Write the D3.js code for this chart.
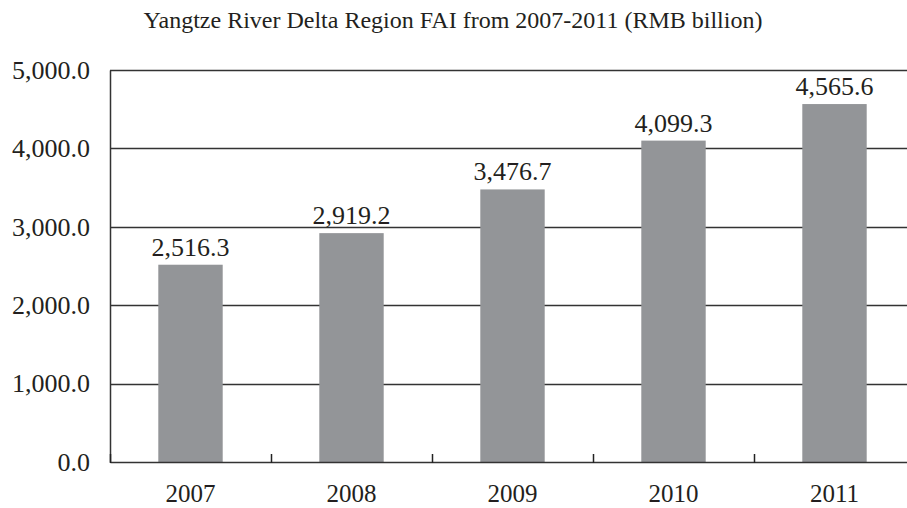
<!DOCTYPE html>
<html>
<head>
<meta charset="utf-8">
<script src="https://cdn.jsdelivr.net/npm/d3@7"></script>
<style>
  html, body { margin: 0; padding: 0; background: #fff; }
  svg { display: block; }
  text { font-family: "Liberation Serif", "Times New Roman", serif; fill: #231f20; }
</style>
</head>
<body>
<svg id="chart" width="907" height="508"></svg>
<script>
// Fixed-asset investment, Yangtze River Delta, RMB billion
const years = ["2007", "2008", "2009", "2010", "2011"];
const fai = [2516.3, 2919.2, 3476.7, 4099.3, 4565.6];
const yTicks = [0, 1000, 2000, 3000, 4000, 5000];
const title = "Yangtze River Delta Region FAI from 2007-2011 (RMB billion)";

const svg = d3.select("#chart");
const W = 907;
const margin = { left: 110, top: 70, bottom: 462, right: 915 };

const x = d3.scaleBand()
  .domain(years)
  .range([margin.left, margin.right])
  .paddingInner(0.6)
  .paddingOuter(0.3);

const y = d3.scaleLinear()
  .domain([0, 5000])
  .range([margin.bottom, margin.top]);

const fmt = d3.format(",.1f");
const serif = "'Liberation Serif', 'Times New Roman', serif";

// title
svg.append("text")
  .attr("x", 453)
  .attr("y", 28)
  .attr("text-anchor", "middle")
  .style("font-size", "24px")
  .text(title);

// horizontal gridlines
svg.append("g")
  .selectAll("line")
  .data(yTicks.filter(d => d > 0))
  .join("line")
  .attr("x1", margin.left)
  .attr("x2", W)
  .attr("y1", d => Math.round(y(d)) + 0.5)
  .attr("y2", d => Math.round(y(d)) + 0.5)
  .attr("stroke", "#333")
  .attr("stroke-width", 1.5);

// bars
svg.append("g")
  .selectAll("rect")
  .data(fai)
  .join("rect")
  .attr("x", (d, i) => x(years[i]))
  .attr("width", x.bandwidth())
  .attr("y", d => y(d))
  .attr("height", d => y(0) - y(d))
  .attr("fill", "#939598");

// value labels
svg.append("g")
  .selectAll("text")
  .data(fai)
  .join("text")
  .attr("x", (d, i) => x(years[i]) + x.bandwidth() / 2)
  .attr("y", d => y(d) - 9)
  .attr("text-anchor", "middle")
  .style("font-size", "26px")
  .text(d => fmt(d));

// y axis
const yAxis = svg.append("g")
  .attr("transform", `translate(${margin.left},0)`)
  .call(d3.axisLeft(y).tickValues(yTicks).tickFormat(fmt).tickSize(0).tickPadding(20));
yAxis.select(".domain").attr("stroke", "#333").attr("stroke-width", 1.5);
yAxis.selectAll("text")
  .style("font-size", "26px")
  .style("font-family", serif)
  .attr("fill", "#231f20");

// x axis with category separator ticks pointing inward
const xAxis = svg.append("g")
  .attr("transform", `translate(0,${margin.bottom})`)
  .call(d3.axisBottom(x).tickSize(0).tickPadding(0));
xAxis.select(".domain").attr("stroke", "#333").attr("stroke-width", 1.5);
xAxis.selectAll("text")
  .attr("y", 40)
  .attr("dy", null)
  .style("font-size", "25px")
  .style("font-family", serif)
  .attr("fill", "#231f20");

const step = x.step();
const bounds = d3.range(years.length).map(i => x(years[i]) - x.paddingInner() * step / 2);
svg.append("g")
  .selectAll("line")
  .data(bounds)
  .join("line")
  .attr("x1", d => Math.round(d) + 0.5)
  .attr("x2", d => Math.round(d) + 0.5)
  .attr("y1", margin.bottom - 8)
  .attr("y2", margin.bottom + 1)
  .attr("stroke", "#222")
  .attr("stroke-width", 1.5);
</script>
</body>
</html>
